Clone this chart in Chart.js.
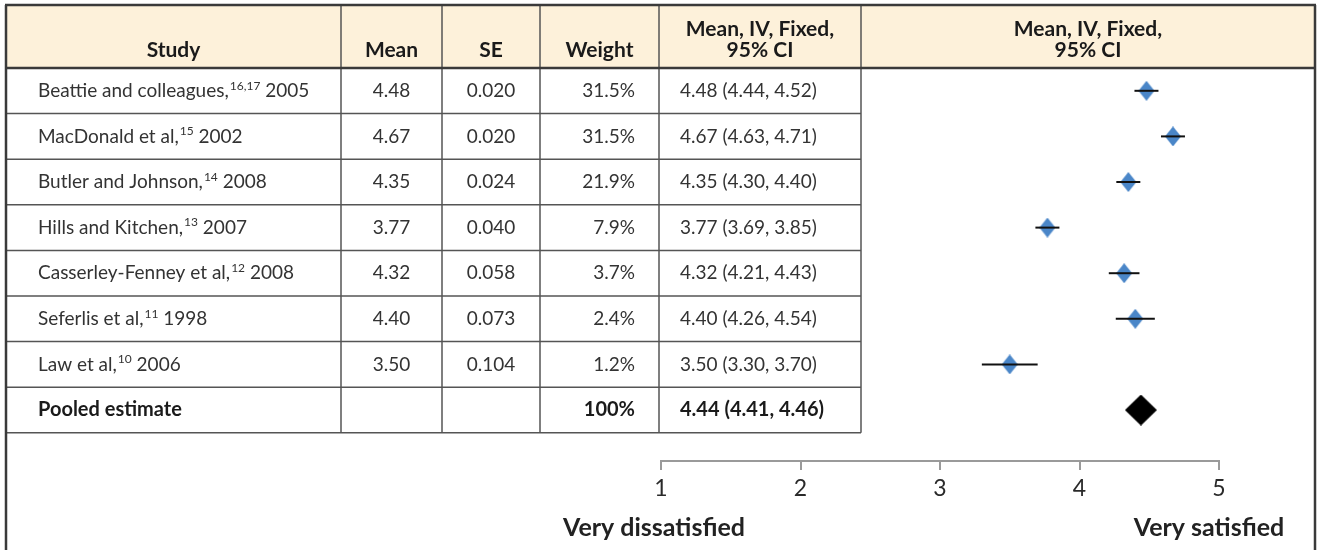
<!DOCTYPE html>
<html>
<head>
<meta charset="utf-8">
<script src="https://cdn.jsdelivr.net/npm/chart.js@4.4.0/dist/chart.umd.min.js"></script>
<style>
    html, body { margin: 0; padding: 0; background: #fff; }
    #forest { display: block; }
</style>
</head>
<body>
<canvas id="forest" width="1317" height="550"></canvas>
<script>
// Study data
const studyNames = ['Beattie and colleagues,', 'MacDonald et al,', 'Butler and Johnson,', 'Hills and Kitchen,',
    'Casserley-Fenney et al,', 'Seferlis et al,', 'Law et al,'];
const studyRefs = ['16,17', '15', '14', '13', '12', '11', '10'];
const studyYears = ['2005', '2002', '2008', '2007', '2008', '1998', '2006'];
const means = [4.48, 4.67, 4.35, 3.77, 4.32, 4.40, 3.50];
const ses = ['0.020', '0.020', '0.024', '0.040', '0.058', '0.073', '0.104'];
const weights = [31.5, 31.5, 21.9, 7.9, 3.7, 2.4, 1.2];
const ciLow = [4.44, 4.63, 4.30, 3.69, 4.21, 4.26, 3.30];
const ciHigh = [4.52, 4.71, 4.40, 3.85, 4.43, 4.54, 3.70];

// Pooled estimate
const pooledLabel = 'Pooled estimate';
const pooledMean = 4.44;
const pooledLow = 4.41;
const pooledHigh = 4.46;
const pooledWeight = '100%';

// Axis
const xTicks = [1, 2, 3, 4, 5];
const endLabels = ['Very dissatisfied', 'Very satisfied'];
const headers = ['Study', 'Mean', 'SE', 'Weight'];
const ciHeader = ['Mean, IV, Fixed,', '95% CI'];

// Table layout
const colEdges = [6, 341, 442, 540, 659, 861, 1315];
const tableTop = 5;
const headerBottom = 68;
const FONT = 'Lato, "Open Sans", sans-serif';
const textColor = '#333';
const headColor = '#1a1a1a';
const lineColor = '#555';

function diamond(w, h, color) {
    const c = document.createElement('canvas');
    c.width = w;
    c.height = h;
    const g = c.getContext('2d');
    g.fillStyle = color;
    g.beginPath();
    g.moveTo(w / 2, 0);
    g.lineTo(w, h / 2);
    g.lineTo(w / 2, h);
    g.lineTo(0, h / 2);
    g.closePath();
    g.fill();
    return c;
}

function ciText(m, lo, hi) {
    return m.toFixed(2) + ' (' + lo.toFixed(2) + ', ' + hi.toFixed(2) + ')';
}

function hLine(ctx, x1, x2, y, w, color) {
    ctx.beginPath();
    ctx.lineWidth = w;
    ctx.strokeStyle = color;
    ctx.moveTo(x1, y);
    ctx.lineTo(x2, y);
    ctx.stroke();
}

function vLine(ctx, x, y1, y2, w, color) {
    ctx.beginPath();
    ctx.lineWidth = w;
    ctx.strokeStyle = color;
    ctx.moveTo(x, y1);
    ctx.lineTo(x, y2);
    ctx.stroke();
}

// Table behind / around the plot
const tablePlugin = {
    id: 'forestTable',
    beforeDraw(chart) {
        const ctx = chart.ctx;
        ctx.save();
        ctx.fillStyle = '#fff';
        ctx.fillRect(0, 0, chart.width, chart.height);
        ctx.fillStyle = '#fdf1da';
        ctx.fillRect(colEdges[0], tableTop, colEdges[6] - colEdges[0], headerBottom - tableTop);
        ctx.restore();
    },
    afterDraw(chart) {
        const ctx = chart.ctx;
        const y = chart.scales.y;
        const x = chart.scales.x;
        const n = studyNames.length;
        const tableBottom = y.getPixelForValue(n + 0.5);
        ctx.save();

        // row lines (table columns only)
        for (let i = 0; i < n; i++) {
            hLine(ctx, colEdges[0], colEdges[5], y.getPixelForValue(i + 0.5), 1.5, lineColor);
        }
        hLine(ctx, colEdges[0], colEdges[5], tableBottom, 1.5, lineColor);
        for (let c = 1; c <= 5; c++) {
            vLine(ctx, colEdges[c], tableTop, tableBottom, 1.5, lineColor);
        }
        // outer frame
        hLine(ctx, colEdges[0] - 1, colEdges[6] + 1, tableTop, 2.5, '#3a3a3a');
        hLine(ctx, colEdges[0], colEdges[6], headerBottom, 2.5, '#3a3a3a');
        vLine(ctx, colEdges[0], tableTop, chart.height, 2.5, '#3a3a3a');
        vLine(ctx, colEdges[6], tableTop, chart.height, 2.5, '#3a3a3a');

        // header text
        ctx.fillStyle = headColor;
        ctx.textBaseline = 'middle';
        ctx.textAlign = 'center';
        ctx.font = 'bold 21px ' + FONT;
        for (let c = 0; c < headers.length; c++) {
            ctx.fillText(headers[c], (colEdges[c] + colEdges[c + 1]) / 2, 50);
        }
        [4, 5].forEach(c => {
            const cx = (colEdges[c] + colEdges[c + 1]) / 2;
            ctx.fillText(ciHeader[0], cx, 29);
            ctx.fillText(ciHeader[1], cx, 50);
        });

        // body rows
        ctx.fillStyle = textColor;
        for (let i = 0; i < n; i++) {
            const ry = y.getPixelForValue(i);
            ctx.textAlign = 'left';
            ctx.font = '19px ' + FONT;
            ctx.fillText(studyNames[i], 38, ry);
            const w1 = ctx.measureText(studyNames[i]).width;
            ctx.font = '12px ' + FONT;
            ctx.fillText(studyRefs[i], 38 + w1 + 1, ry - 5);
            const w2 = ctx.measureText(studyRefs[i]).width;
            ctx.font = '19px ' + FONT;
            ctx.fillText(' ' + studyYears[i], 38 + w1 + 1 + w2, ry);

            ctx.textAlign = 'center';
            ctx.fillText(means[i].toFixed(2), (colEdges[1] + colEdges[2]) / 2, ry);
            ctx.fillText(ses[i], (colEdges[2] + colEdges[3]) / 2, ry);
            ctx.textAlign = 'right';
            ctx.fillText(weights[i].toFixed(1) + '%', colEdges[4] - 24, ry);
            ctx.textAlign = 'left';
            ctx.fillText(ciText(means[i], ciLow[i], ciHigh[i]), colEdges[4] + 21, ry);
        }

        // pooled row
        const py = y.getPixelForValue(n);
        ctx.fillStyle = headColor;
        ctx.font = 'bold 20px ' + FONT;
        ctx.textAlign = 'left';
        ctx.fillText(pooledLabel, 38, py);
        ctx.textAlign = 'right';
        ctx.fillText(pooledWeight, colEdges[4] - 24, py);
        ctx.textAlign = 'left';
        ctx.fillText(ciText(pooledMean, pooledLow, pooledHigh), colEdges[4] + 21, py);

        // end labels under the axis
        ctx.font = 'bold 25px ' + FONT;
        ctx.textAlign = 'center';
        ctx.fillStyle = '#222';
        ctx.fillText(endLabels[0], x.getPixelForValue(xTicks[0]) - 7, 528);
        ctx.fillText(endLabels[1], x.getPixelForValue(xTicks[xTicks.length - 1]) - 10, 528);
        ctx.restore();
    }
};

// Confidence interval whiskers, drawn over the diamonds
const whiskerPlugin = {
    id: 'whiskers',
    afterDatasetsDraw(chart) {
        const ctx = chart.ctx;
        const x = chart.scales.x;
        const y = chart.scales.y;
        ctx.save();
        for (let i = 0; i < means.length; i++) {
            const cx = x.getPixelForValue(means[i]);
            const left = Math.min(x.getPixelForValue(ciLow[i]), cx - 12);
            const right = Math.max(x.getPixelForValue(ciHigh[i]), cx + 12);
            hLine(ctx, left, right, y.getPixelForValue(i), 2, '#111');
        }
        ctx.restore();
    }
};

new Chart(document.getElementById('forest'), {
    type: 'scatter',
    data: {
        datasets: [{
            data: means.map((m, i) => ({ x: m, y: i })),
            pointStyle: diamond(16, 20, '#4a86c8'),
            pointRadius: 10
        }, {
            data: [{ x: pooledMean, y: studyNames.length }],
            pointStyle: diamond(32, 31, '#000'),
            pointRadius: 16
        }]
    },
    options: {
        responsive: false,
        animation: false,
        devicePixelRatio: 1,
        layout: { padding: { left: 661, right: 98, top: 68, bottom: 49 } },
        plugins: { legend: { display: false }, tooltip: { enabled: false } },
        scales: {
            x: {
                type: 'linear',
                min: 1,
                max: 5,
                afterBuildTicks: s => { s.ticks = xTicks.map(v => ({ value: v })); },
                afterFit: s => { s.height = 40; },
                ticks: { font: { family: FONT, size: 23 }, color: '#2a2a2a', padding: 5 },
                grid: { drawOnChartArea: false, tickLength: 9, color: '#9a9a9a', lineWidth: 2 },
                border: { display: true, color: '#9a9a9a', width: 2 }
            },
            y: {
                type: 'linear',
                reverse: true,
                min: -0.5,
                max: 8.118,
                display: false
            }
        }
    },
    plugins: [tablePlugin, whiskerPlugin]
});
</script>
</body>
</html>
